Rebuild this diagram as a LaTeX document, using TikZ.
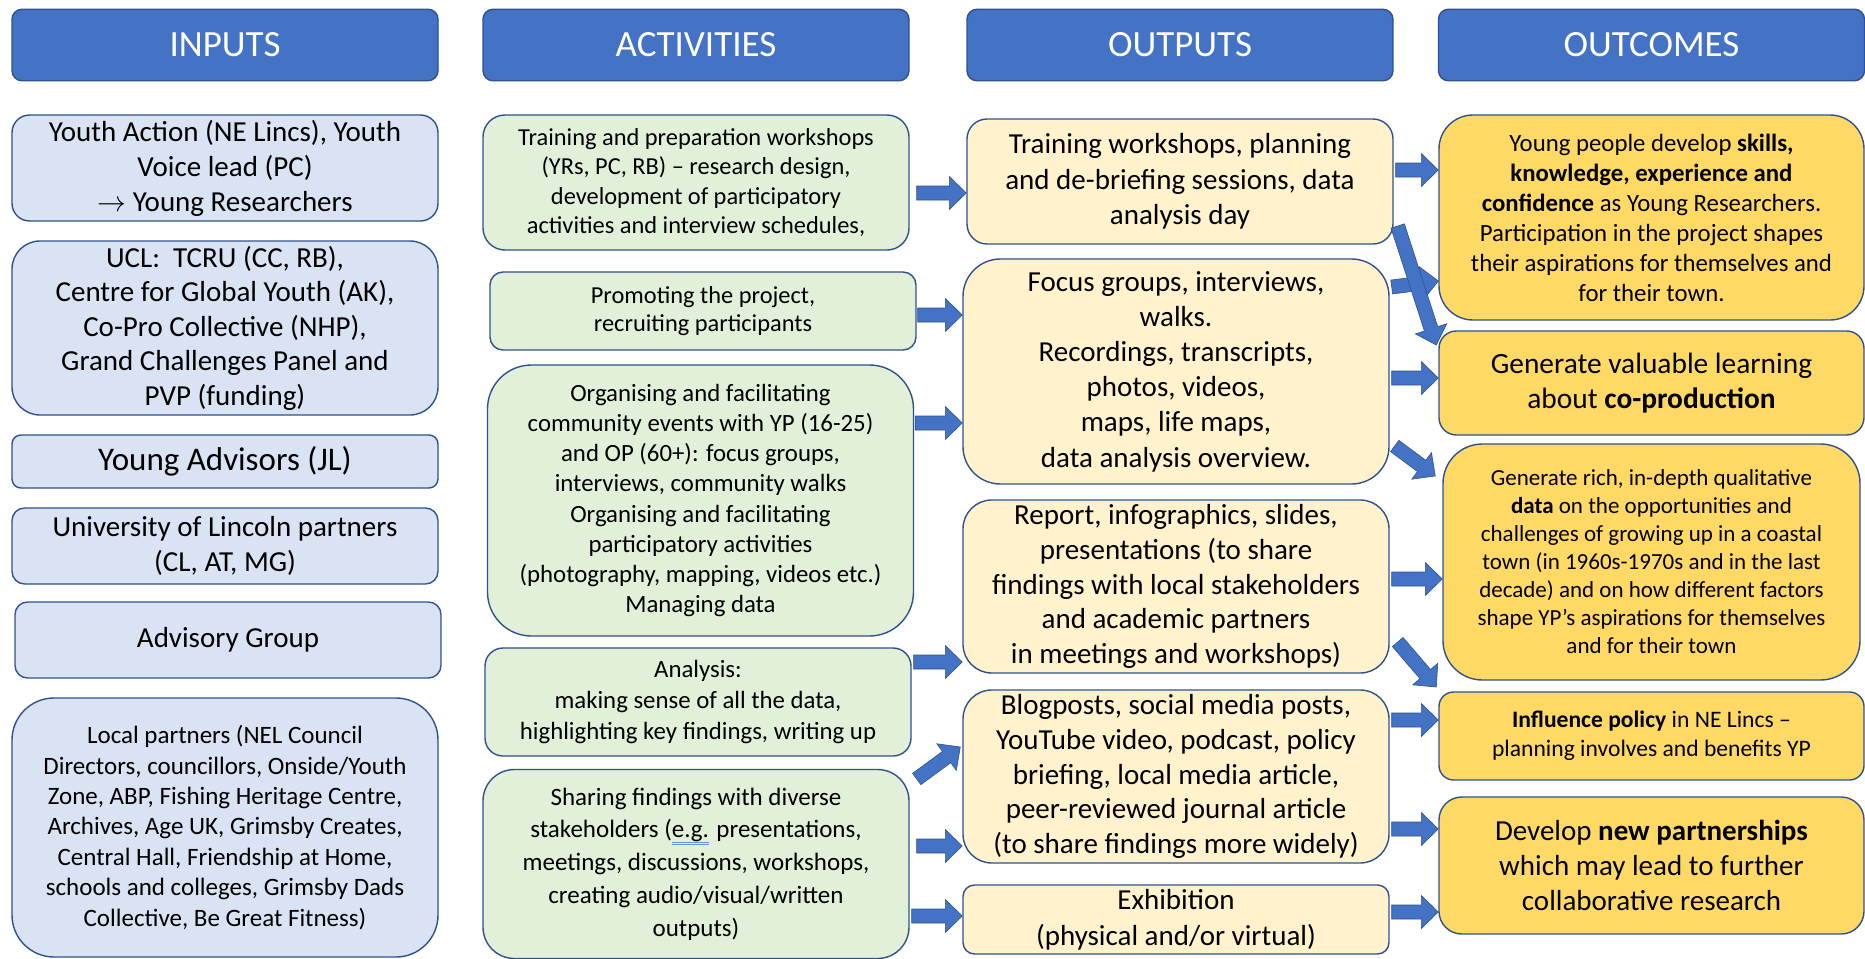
\documentclass[tikz,border=0pt]{standalone}
\usepackage{fontspec}
\setmainfont{Carlito}
\usetikzlibrary{calc}
\definecolor{hdrblue}{HTML}{4472C4}
\definecolor{edgeblue}{HTML}{2F528F}
\definecolor{inblue}{HTML}{DAE3F3}
\definecolor{actgreen}{HTML}{E2F0D9}
\definecolor{outcream}{HTML}{FFF2CC}
\definecolor{ocgold}{HTML}{FFD966}
\definecolor{ulblue}{HTML}{5B9BD5}
\newcommand{\fs}[2]{\fontsize{#1}{#2}\selectfont}
\newcommand{\dblul}[1]{\sbox0{#1}\rlap{\color{ulblue}\rule[-2.3pt]{\wd0}{0.45pt}}\rlap{\color{ulblue}\rule[-3.5pt]{\wd0}{0.45pt}}#1}
% block arrow from #1 to #2
\newcommand{\barrow}[2]{%
  \coordinate (ba-s) at #1;
  \coordinate (ba-e) at #2;
  \coordinate (ba-c) at ($(ba-e)!8.5pt!(ba-s)$);
  \filldraw[arrowshape] ($(ba-s)!3.5pt!90:(ba-e)$) -- ($(ba-c)!3.5pt!90:(ba-e)$) -- ($(ba-c)!8.25pt!90:(ba-e)$) -- (ba-e)
     -- ($(ba-c)!8.25pt!-90:(ba-e)$) -- ($(ba-c)!3.5pt!-90:(ba-e)$) -- ($(ba-s)!3.5pt!-90:(ba-e)$) -- cycle;
}
\tikzset{
  box/.style={draw=edgeblue, line width=0.7pt, align=center, inner sep=2pt, text=black, minimum width=213pt},
  hdr/.style={box, fill=hdrblue, text=white, minimum height=35.75pt, rounded corners=5pt, font=\fs{18.5}{22}},
  inbox/.style={box, fill=inblue},
  actbox/.style={box, fill=actgreen},
  outbox/.style={box, fill=outcream},
  ocbox/.style={box, fill=ocgold},
  arrowshape/.style={fill=hdrblue, draw=edgeblue, line width=0.3pt, line join=miter},
}
\begin{document}
\begin{tikzpicture}[x=0.5pt, y=-0.5pt]
\useasboundingbox[fill=white] (0,0) rectangle (1865,959);

% headers
\node[hdr] (hIn)  at (225,45)    {INPUTS};
\node[hdr] (hAct) at (696,45)    {ACTIVITIES};
\node[hdr] (hOut) at (1180,45)   {OUTPUTS};
\node[hdr] (hOc)  at (1651.5,45) {OUTCOMES};

% inputs
\node[inbox, minimum height=53pt, rounded corners=8.8pt, font=\fs{14.5}{17.5}] (in1) at (225,168)
  {Youth Action (NE Lincs), Youth\\Voice lead (PC)\\$\rightarrow$ Young Researchers};
\node[inbox, minimum height=87pt, rounded corners=14pt, font=\fs{14.5}{17.25}] (in2) at (225,328)
  {UCL:~ TCRU (CC, RB),\\Centre for Global Youth (AK),\\Co-Pro Collective (NHP),\\Grand Challenges Panel and\\PVP (funding)};
\node[inbox, minimum height=26.5pt, rounded corners=4.5pt, font=\fs{16.5}{19}] (in3) at (225,461.5)
  {Young Advisors (JL)};
\node[inbox, minimum height=38pt, rounded corners=6.3pt, font=\fs{14.5}{17.5}] (in4) at (225,546)
  {University of Lincoln partners\\(CL, AT, MG)};
\node[inbox, minimum height=38pt, rounded corners=6.3pt, font=\fs{14.5}{17.5}] (in5) at (228,640)
  {Advisory Group};
\node[inbox, minimum height=129.5pt, rounded corners=21pt, font=\fs{12.5}{15.2}] (in6) at (225,827.5)
  {Local partners (NEL Council\\Directors, councillors, Onside/Youth\\Zone, ABP, Fishing Heritage Centre,\\Archives, Age UK, Grimsby Creates,\\Central Hall, Friendship at Home,\\schools and colleges, Grimsby Dads\\Collective, Be Great Fitness)};

% activities
\node[actbox, minimum height=67.5pt, rounded corners=11pt, font=\fs{12.2}{14.7}] (act1) at (696,182.5)
  {Training and preparation workshops\\(YRs, PC, RB) -- research design,\\development of participatory\\activities and interview schedules,};
\node[actbox, minimum height=39pt, rounded corners=6.5pt, font=\fs{12.2}{14.3}] (act2) at (703,311)
  {Promoting the project,\\recruiting participants};
\node[actbox, minimum height=135.5pt, rounded corners=22pt, font=\fs{12.4}{15.1}] (act3) at (700.5,500.5)
  {Organising and facilitating\\community events with YP (16-25)\\and OP (60+): focus groups,\\interviews, community walks\\Organising and facilitating\\participatory activities\\(photography, mapping, videos etc.)\\Managing data};
\node[actbox, minimum height=54pt, rounded corners=9pt, font=\fs{12.4}{15.5}] (act4) at (698,702)
  {Analysis:\\making sense of all the data,\\highlighting key findings, writing up};
\node[actbox, minimum height=94.5pt, rounded corners=15.7pt, font=\fs{12.5}{16.4}] (act5) at (696,864)
  {Sharing findings with diverse\\stakeholders (\dblul{e.g.} presentations,\\meetings, discussions, workshops,\\creating audio/visual/written\\outputs)};

% outputs
\node[outbox, minimum height=62.5pt, rounded corners=10pt, font=\fs{14.5}{17.8}] (out1) at (1180,181.5)
  {Training workshops, planning\\and de-briefing sessions, data\\analysis day};
\node[outbox, minimum height=112.5pt, rounded corners=18.7pt, font=\fs{14.5}{17.6}] (out2) at (1176,371.5)
  {Focus groups, interviews,\\walks.\\Recordings, transcripts,\\photos, videos,\\maps, life maps,\\data analysis overview.};
\node[outbox, minimum height=86.5pt, rounded corners=14.4pt, font=\fs{14.5}{17.3}] (out3) at (1176,586.5)
  {Report, infographics, slides,\\presentations (to share\\findings with local stakeholders\\and academic partners\\in meetings and workshops)};
\node[outbox, minimum height=86.5pt, rounded corners=14.4pt, font=\fs{14.5}{17.4}] (out4) at (1176,776.5)
  {Blogposts, social media posts,\\YouTube video, podcast, policy\\briefing, local media article,\\peer-reviewed journal article\\(to share findings more widely)};
\node[outbox, minimum height=34.5pt, rounded corners=5.75pt, font=\fs{14.5}{17.8}] (out5) at (1176,919.5)
  {Exhibition\\(physical and/or virtual)};

% outcomes
\node[ocbox, minimum width=212.5pt, minimum height=102.5pt, rounded corners=17pt, font=\fs{12.4}{15}] (oc1) at (1651.5,217.5)
  {Young people develop \textbf{skills,}\\\textbf{knowledge, experience and}\\\textbf{confidence} as Young Researchers.\\Participation in the project shapes\\their aspirations for themselves and\\for their town.};
\node[ocbox, minimum width=212.5pt, minimum height=52pt, rounded corners=8.7pt, font=\fs{14.7}{17.8}] (oc2) at (1651.5,383)
  {Generate valuable learning\\about \textbf{co-production}};
\node[ocbox, minimum width=208.5pt, minimum height=118pt, rounded corners=19.7pt, font=\fs{11.5}{14}] (oc3) at (1651.5,562)
  {Generate rich, in-depth qualitative\\\textbf{data} on the opportunities and\\challenges of growing up in a coastal\\town (in 1960s-1970s and in the last\\decade) and on how different factors\\shape YP's aspirations for themselves\\and for their town};
\node[ocbox, minimum width=212.5pt, minimum height=44pt, rounded corners=7.3pt, font=\fs{11.8}{14.3}] (oc4) at (1651.5,736)
  {\textbf{Influence policy} in NE Lincs --\\planning involves and benefits YP};
\node[ocbox, minimum width=212.5pt, minimum height=68.5pt, rounded corners=11.4pt, font=\fs{14.5}{17.5}] (oc5) at (1651.5,865.5)
  {Develop \textbf{new partnerships}\\which may lead to further\\collaborative research};

% arrows activities -> outputs
\barrow{($(act1.east|-0,193)+(7,0)$)}{(out1.west|-0,193)}
\barrow{($(act2.east|-0,315)+(1,0)$)}{(out2.west|-0,315)}
\barrow{($(act3.east|-0,423)+(1,0)$)}{(out2.west|-0,423)}
\barrow{($(act4.east|-0,662)+(2,0)$)}{(out3.west|-0,662)}
\barrow{($(act5.east|-0,779)+(7,0)$)}{($(out4.west|-0,747)+(-2,0)$)}
\barrow{($(act5.east|-0,846)+(7,0)$)}{(out4.west|-0,846)}
\barrow{($(act5.east|-0,916)+(2,0)$)}{(out5.west|-0,916)}

% arrows outputs -> outcomes
\barrow{($(out1.east|-0,170)+(2,0)$)}{(oc1.west|-0,170)}
\barrow{($(out2.east|-0,287)+(2,0)$)}{(oc1.west|-0,281)}
\barrow{($(out1.east|-0,226)+(4,0)$)}{($(oc2.west|-0,345)+(-2,0)$)}
\barrow{($(out2.east|-0,378)+(2,0)$)}{(oc2.west|-0,378)}
\barrow{($(out2.east|-0,446)+(5,0)$)}{($(oc3.west|-0,476)+(-7,0)$)}
\barrow{($(out3.east|-0,579)+(2,0)$)}{(oc3.west|-0,579)}
\barrow{($(out3.east|-0,642)+(8,0)$)}{($(oc4.west|-0,687)+(-2,0)$)}
\barrow{($(out4.east|-0,720)+(2,0)$)}{(oc4.west|-0,720)}
\barrow{($(out4.east|-0,829)+(2,0)$)}{(oc5.west|-0,829)}
\barrow{($(out5.east|-0,912)+(2,0)$)}{(oc5.west|-0,912)}
\end{tikzpicture}
\end{document}
